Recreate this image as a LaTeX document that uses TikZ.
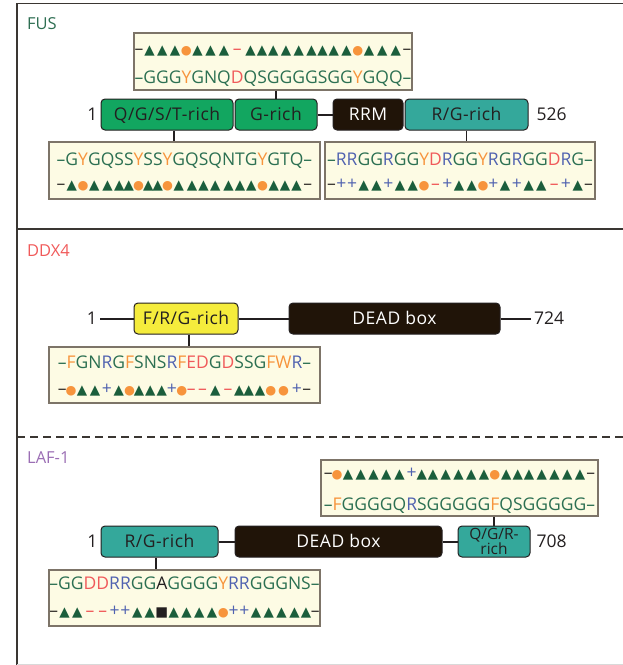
\documentclass[tikz,border=0pt]{standalone}
\usepackage{fontspec}
\setmainfont{Open Sans}
\newfontfamily\symf{DejaVu Sans}
\newfontfamily\domf[LetterSpace=3]{Open Sans}
\usetikzlibrary{calc}

\definecolor{frame}{RGB}{58,54,50}
\definecolor{ink}{RGB}{35,31,32}
\definecolor{cream}{RGB}{253,251,228}
\definecolor{creamline}{RGB}{125,116,104}
\definecolor{dgreen}{RGB}{44,112,82}
\definecolor{trig}{RGB}{27,94,60}
\definecolor{orng}{RGB}{247,148,60}
\definecolor{redd}{RGB}{240,90,90}
\definecolor{blu}{RGB}{80,98,176}
\definecolor{greenbox}{RGB}{18,166,96}
\definecolor{tealbox}{RGB}{52,168,155}
\definecolor{blkbox}{RGB}{32,20,8}
\definecolor{yelbox}{RGB}{245,236,60}
\definecolor{fuscol}{RGB}{46,110,82}
\definecolor{ddxcol}{RGB}{240,90,90}
\definecolor{lafcol}{RGB}{155,110,180}

\colorlet{colG}{dgreen}\colorlet{colQ}{dgreen}\colorlet{colS}{dgreen}
\colorlet{colN}{dgreen}\colorlet{colT}{dgreen}
\colorlet{colY}{orng}\colorlet{colF}{orng}\colorlet{colW}{orng}
\colorlet{colD}{redd}\colorlet{colE}{redd}
\colorlet{colR}{blu}\colorlet{colA}{ink}

\newcommand\stri{{\symf\fontsize{13.5}{13.5}\selectfont\textcolor{trig}{▲}}}
\newcommand\sdot{{\symf\fontsize{12.5}{12.5}\selectfont\textcolor{orng}{●}}}
\newcommand\splus{\textcolor{blu}{+}}
\newcommand\sminus{\textcolor{redd}{–}}
\newcommand\ssq{{\symf\fontsize{13.5}{13.5}\selectfont\textcolor{ink}{■}}}
\def\symG{\stri}\def\symQ{\stri}\def\symS{\stri}\def\symN{\stri}\def\symT{\stri}
\def\symY{\sdot}\def\symF{\sdot}\def\symW{\sdot}
\def\symD{\sminus}\def\symE{\sminus}
\def\symR{\splus}\def\symA{\ssq}

\newlength\rw
\newcommand\seqfont{\fontsize{17.5}{17.5}\selectfont}
\def\resL#1{\textcolor{col#1}{#1}}
\def\resS#1{\settowidth\rw{\seqfont #1}\makebox[\rw]{\csname sym#1\endcsname}}
\def\seqloop#1{\ifx\relax#1\else\resL{#1}\expandafter\seqloop\fi}
\def\symloop#1{\ifx\relax#1\else\resS{#1}\expandafter\symloop\fi}
\newcommand\seqtext[1]{{\seqfont\textcolor{dgreen}{–}\seqloop#1\relax\textcolor{dgreen}{–}}}
\newcommand\symtext[1]{{\seqfont\textcolor{frame}{–}\symloop#1\relax\textcolor{frame}{–}}}

\tikzset{
 seqbox/.style={draw=creamline, fill=cream, line width=1.1pt, inner sep=0pt},
 dom/.style={draw=ink, line width=1pt, rounded corners=4pt, minimum height=31pt,
   inner sep=0pt, font=\domf\fontsize{17.5}{17.5}\selectfont, text=ink, text height=12.6pt, text depth=0pt},
 seqtxt/.style={inner sep=0pt, anchor=base},
 num/.style={font=\fontsize{17.5}{17.5}\selectfont, text=ink, inner sep=3pt},
 bb/.style={draw=ink, line width=2pt},
 conn/.style={draw=ink, line width=1.7pt},
 lbl/.style={font=\fontsize{16.5}{16.5}\selectfont, anchor=west, inner sep=0pt},
 framel/.style={draw=frame, line width=1.3pt},
}

\begin{document}
\begin{tikzpicture}[x=1pt,y=-1pt]
\useasboundingbox (0,0) rectangle (623,665);
% frame
\draw[framel] (17,665) -- (17,3.5) -- (623,3.5);
\draw[framel] (17,229) -- (623,229);
\draw[framel, dash pattern=on 8pt off 5pt] (17,437) -- (623,437);
\draw[draw=black!15, line width=0.8pt] (17,664) -- (623,664);

% ---------------- FUS ----------------
\node[lbl, text=fuscol] (fus) at (27,24) {FUS};
\node[seqbox, minimum width=278, minimum height=57] (fustop) at (273,61.5) {};
\node[seqtxt] (fustop-s) at (273,54) {\symtext{GGGYGNQDQSGGGGSGGYGQQ}};
\node[seqtxt] (fustop-q) at (273,83) {\seqtext{GGGYGNQDQSGGGGSGGYGQQ}};

\node[dom, fill=greenbox, minimum width=132] (qgst) at (167,114.5) {Q/G/S/T-rich};
\node[dom, fill=greenbox, minimum width=82] (grich) at (276,114.5) {G-rich};
\node[dom, fill=blkbox, text=white, minimum width=70] (rrm) at (368,114.5) {RRM};
\node[dom, fill=tealbox, minimum width=123] (rgrich) at (466.5,114.5) {R/G-rich};
\node[num, anchor=east] (fus1) at (qgst.west) {1};
\node[num, anchor=west] (fus526) at ([xshift=5pt]rgrich.east) {526};
\draw[bb] (grich.east) -- (rrm.west);

\node[seqbox, minimum width=271, minimum height=57] (fusbl) at (184.5,170.5) {};
\node[seqtxt] (fusbl-q) at (184.5,165) {\seqtext{GYGQSSYSSYGQSQNTGYGTQ}};
\node[seqtxt] (fusbl-s) at (184.5,189) {\symtext{GYGQSSYSSYGQSQNTGYGTQ}};
\node[seqbox, minimum width=270, minimum height=57] (fusbr) at (460,170.5) {};
\node[seqtxt] (fusbr-q) at (460,165) {\seqtext{RRGGRGGYDRGGYRGRGGDRG}};
\node[seqtxt] (fusbr-s) at (460,189) {\symtext{RRGGRGGYDRGGYRGRGGDRG}};

\draw[conn] (fustop.south -| grich.north) -- (grich.north);
\draw[conn] ([xshift=7pt]qgst.south) -- ([xshift=7pt]qgst.south |- fusbl.north);
\draw[conn] (rgrich.south) -- (rgrich.south |- fusbr.north);

% ---------------- DDX4 ----------------
\node[lbl, text=ddxcol] (ddx) at (27,251) {DDX4};
\node[dom, fill=yelbox, minimum width=104] (frg) at (186,318.5) {F/R/G-rich};
\node[dom, fill=blkbox, text=white, minimum width=211] (ddead) at (394.5,318.5) {DEAD box};
\node[num, anchor=east] (ddx1) at (100,318.5) {1};
\node[num, anchor=west] (ddx724) at (531,318.5) {724};
\draw[bb] (ddx1.east) -- (frg.west);
\draw[bb] (frg.east) -- (ddead.west);
\draw[bb] (ddead.east) -- (ddx724.west);

\node[seqbox, minimum width=271, minimum height=56] (ddxb) at (184.5,375) {};
\node[seqtxt] (ddxb-q) at (184.5,368) {\seqtext{FGNRGFSNSRFEDGDSSGFWR}};
\node[seqtxt] (ddxb-s) at (184.5,394) {\symtext{FGNRGFSNSRFEDGDSSGFWR}};
\draw[conn] ([xshift=3pt]frg.south) -- ([xshift=3pt]frg.south |- ddxb.north);

% ---------------- LAF-1 ----------------
\node[lbl, text=lafcol] (laf) at (27,458) {LAF-1};
\node[seqbox, minimum width=277, minimum height=56] (laftop) at (459.5,488) {};
\node[seqtxt] (laftop-s) at (459.5,478) {\symtext{FGGGGQRSGGGGGFQSGGGGG}};
\node[seqtxt] (laftop-q) at (459.5,510) {\seqtext{FGGGGQRSGGGGGFQSGGGGG}};

\node[dom, fill=tealbox, minimum width=117] (lrg) at (159.5,541.5) {R/G-rich};
\node[dom, fill=blkbox, text=white, minimum width=207] (ldead) at (338.5,541.5) {DEAD box};
\node[dom, fill=tealbox, minimum width=72, text height=, text depth=, align=center,
  font=\fontsize{15.5}{13}\selectfont] (lqgr) at (494,541.5) {Q/G/R-\\rich};
\node[num, anchor=east] (laf1) at (lrg.west) {1};
\node[num, anchor=west] (laf708) at ([xshift=3pt]lqgr.east) {708};
\draw[bb] (lrg.east) -- (ldead.west);
\draw[bb] (ldead.east) -- (lqgr.west);

\node[seqbox, minimum width=271, minimum height=56] (lafb) at (184.5,598) {};
\node[seqtxt] (lafb-q) at (184.5,589) {\seqtext{GGDDRRGGAGGGGYRRGGGNS}};
\node[seqtxt] (lafb-s) at (184.5,616) {\symtext{GGDDRRGGAGGGGYRRGGGNS}};

\draw[conn] (laftop.south -| lqgr.north) -- (lqgr.north);
\draw[conn] ([xshift=-3.5pt]lrg.south) -- ([xshift=-3.5pt]lrg.south |- lafb.north);
\end{tikzpicture}
\end{document}
